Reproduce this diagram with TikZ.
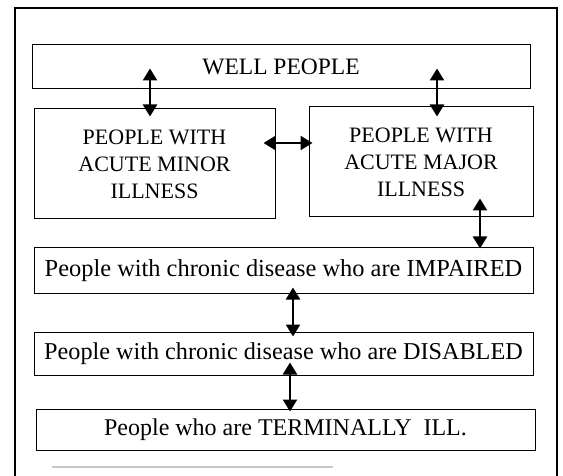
\documentclass[tikz,border=0pt]{standalone}
\usepackage{fontspec}
\setmainfont{Liberation Serif}
\usetikzlibrary{arrows.meta}
\begin{document}
\begin{tikzpicture}[x=1pt,y=-1pt,
  box/.style={draw=black,line width=1pt,rectangle,inner sep=0pt,align=center,
    font=\fontsize{22}{27}\selectfont},
  dbl/.style={line width=2.4pt,{Triangle[width=14pt,length=12pt]}-{Triangle[width=14pt,length=12pt]}}]
\useasboundingbox (0,0) rectangle (563,476);
\draw[line width=2pt] (15,478) -- (15,8) -- (557,8) -- (557,478);
\draw[gray!45,line width=1.5pt] (52,467) -- (333,467);

\node[box,minimum width=498pt,minimum height=44pt,font=\fontsize{23.5}{27}\selectfont] (well) at (281,67) {WELL PEOPLE};
\node[box,minimum width=241pt,minimum height=110pt] (minor) at (154.5,164) {PEOPLE WITH\\ACUTE MINOR\\ILLNESS};
\node[box,minimum width=224pt,minimum height=110pt] (major) at (421,162) {PEOPLE WITH\\ACUTE MAJOR\\ILLNESS};
\node[box,minimum width=499pt,minimum height=45pt,font=\fontsize{24.4}{27}\selectfont] (impaired) at (283.5,270.5) {People with chronic disease who are IMPAIRED};
\node[box,minimum width=499pt,minimum height=43pt,font=\fontsize{24.2}{27}\selectfont] (disabled) at (283.5,353.5) {People with chronic disease who are DISABLED};
\node[box,minimum width=499pt,minimum height=41pt,font=\fontsize{24}{27}\selectfont] (terminal) at (285.5,429.5) {People who are TERMINALLY\ \ ILL.};

\draw[dbl] ([xshift=-131pt,yshift=21pt]well.south) -- ([xshift=-4.5pt,yshift=-8pt]minor.north);
\draw[dbl] ([xshift=156pt,yshift=21pt]well.south) -- ([xshift=16pt,yshift=-10pt]major.north);
\draw[dbl] ([xshift=-12pt,yshift=21pt]minor.east) -- ([xshift=4pt,yshift=19pt]major.west);
\draw[dbl] ([xshift=59pt,yshift=19pt]major.south) -- ([xshift=196.5pt,yshift=-1pt]impaired.north);
\draw[dbl] ([xshift=9.5pt,yshift=6pt]impaired.south) -- ([xshift=9.5pt,yshift=-5pt]disabled.north);
\draw[dbl] ([xshift=6.5pt,yshift=13pt]disabled.south) -- ([xshift=4.5pt,yshift=-3pt]terminal.north);
\end{tikzpicture}
\end{document}
